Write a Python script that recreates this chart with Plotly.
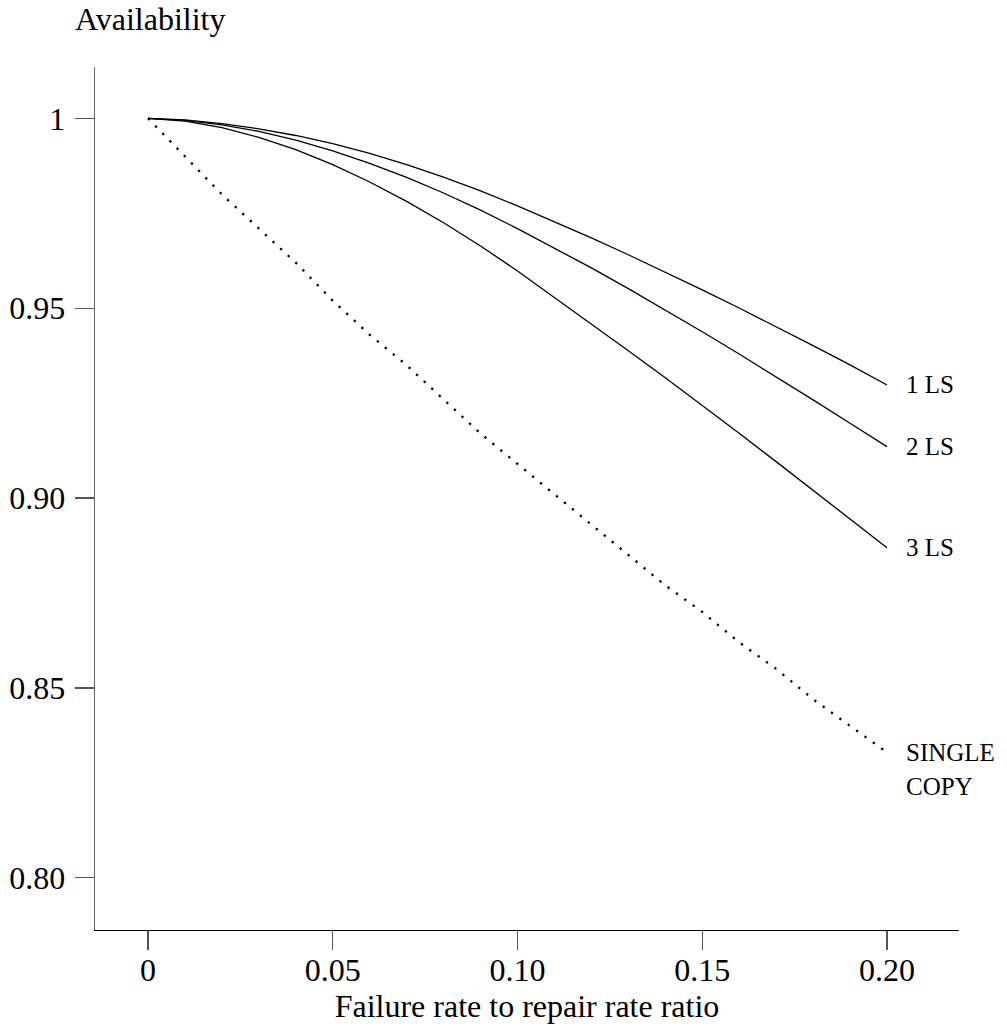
import plotly.graph_objects as go

# Failure rate to repair rate ratio
ratio = [0.00, 0.01, 0.02, 0.03, 0.04, 0.05, 0.06, 0.07, 0.08, 0.09, 0.10,
         0.11, 0.12, 0.13, 0.14, 0.15, 0.16, 0.17, 0.18, 0.19, 0.20]

avail_1ls = [1.0, 0.99960, 0.99863, 0.99726, 0.99550, 0.99334, 0.99078, 0.98783,
             0.98454, 0.98090, 0.97695, 0.97281, 0.96852, 0.96409, 0.95954,
             0.95485, 0.95005, 0.94515, 0.94015, 0.93506, 0.92979]

avail_2ls = [1.0, 0.99947, 0.99831, 0.99658, 0.99428, 0.99146, 0.98817, 0.98446,
             0.98035, 0.97584, 0.97097, 0.96589, 0.96062, 0.95516, 0.94955,
             0.94381, 0.93794, 0.93195, 0.92587, 0.91970, 0.91354]

avail_3ls = [1.0, 0.99926, 0.99755, 0.99502, 0.99175, 0.98780, 0.98325, 0.97813,
             0.97250, 0.96639, 0.95983, 0.95287, 0.94586, 0.93880, 0.93169,
             0.92442, 0.91704, 0.90959, 0.90205, 0.89449, 0.88691]

avail_single = [1.0, 0.990, 0.980, 0.971, 0.962, 0.952, 0.943, 0.935, 0.926,
                0.917, 0.909, 0.901, 0.893, 0.885, 0.877, 0.870, 0.862, 0.855,
                0.847, 0.840, 0.833]

x_tickvals = [0, 0.05, 0.10, 0.15, 0.20]
x_ticktext = ["0", "0.05", "0.10", "0.15", "0.20"]
y_tickvals = [0.80, 0.85, 0.90, 0.95, 1.0]
y_ticktext = ["0.80", "0.85", "0.90", "0.95", "1"]

FONT = "Liberation Serif, Times New Roman, serif"

fig = go.Figure()
for ys in (avail_1ls, avail_2ls, avail_3ls):
    fig.add_trace(go.Scatter(x=ratio, y=ys, mode="lines",
                             line=dict(color="black", width=1.3),
                             showlegend=False, hoverinfo="skip"))
fig.add_trace(go.Scatter(x=ratio, y=avail_single, mode="lines",
                         line=dict(color="black", width=2.3, dash="2.3px,8px"),
                         showlegend=False, hoverinfo="skip"))

labels = [("1 LS", avail_1ls[-1]), ("2 LS", avail_2ls[-1]),
          ("3 LS", avail_3ls[-1]), ("SINGLE", avail_single[-1])]
for txt, yv in labels:
    fig.add_annotation(x=ratio[-1], y=yv, xref="x", yref="y", text=txt,
                       showarrow=False, xanchor="left", yanchor="middle",
                       xshift=17, font=dict(family=FONT, size=25, color="black"))
fig.add_annotation(x=ratio[-1], y=avail_single[-1], xref="x", yref="y", text="COPY",
                   showarrow=False, xanchor="left", yanchor="middle",
                   xshift=17, yshift=-34, font=dict(family=FONT, size=25, color="black"))

fig.add_annotation(x=0, y=1, xref="paper", yref="paper", text="Availability",
                   showarrow=False, xanchor="left", yanchor="middle",
                   xshift=-22, yshift=48, font=dict(family=FONT, size=32, color="black"))

fig.update_xaxes(range=[-0.01434, 0.21949], tickvals=x_tickvals, ticktext=x_ticktext,
                 showline=True, linecolor="black", linewidth=1.3,
                 ticks="outside", ticklen=19, tickwidth=1.3, tickcolor="#555555",
                 ticklabelstandoff=-8, automargin=False,
                 showgrid=False, zeroline=False,
                 tickfont=dict(family=FONT, size=32, color="black"),
                 title=dict(text="Failure rate to repair rate ratio",
                            font=dict(family=FONT, size=32, color="black"), standoff=6))
fig.update_yaxes(range=[0.78622, 1.01354], tickvals=y_tickvals, ticktext=y_ticktext,
                 showline=True, linecolor="#666666", linewidth=1.3,
                 ticks="outside", ticklen=19, tickwidth=1.3, tickcolor="#555555",
                 ticklabelstandoff=3, automargin=False,
                 showgrid=False, zeroline=False,
                 tickfont=dict(family=FONT, size=32, color="black"))

fig.update_layout(width=1007, height=1031,
                  margin=dict(l=95, r=48, t=67, b=101, pad=0, autoexpand=False),
                  plot_bgcolor="white", paper_bgcolor="white")

# remove the browser's default 8px body margin so the figure fills the window
fig.write_html("out.html",
               config={"displayModeBar": False, "staticPlot": True},
               post_script="document.body.style.margin='0';document.body.style.overflow='hidden';")
